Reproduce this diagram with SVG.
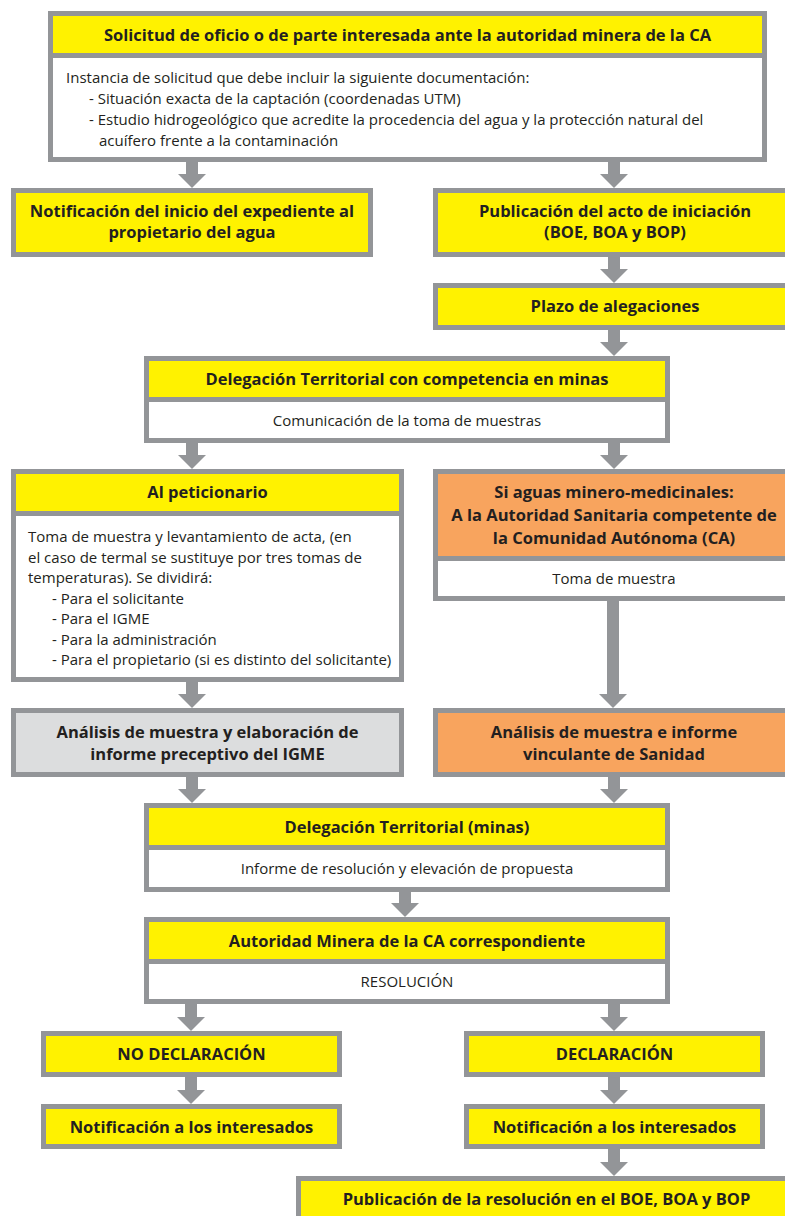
<svg xmlns="http://www.w3.org/2000/svg" width="785" height="1216" viewBox="0 0 785 1216">
  <style>
    .frame { fill: #939598; }
    .yellow { fill: #FFF200; }
    .orange { fill: #F8A45E; }
    .grey { fill: #DCDDDE; }
    .white { fill: #FFFFFF; }
    .head { font-family: "Open Sans", "Noto Sans", sans-serif; font-weight: 700; font-size: 16.5px; fill: #231F20; text-anchor: middle; }
    .body { font-family: "Open Sans", "Noto Sans", sans-serif; font-weight: 400; font-size: 15px; fill: #231F20; }
    .body.mid { text-anchor: middle; }
    .conn { stroke: #939598; stroke-width: 12; fill: none; }
  </style>
  <defs>
    <marker id="arrow" markerUnits="userSpaceOnUse" viewBox="0 -14 14 28" refX="0" refY="0" markerWidth="14" markerHeight="28" orient="auto">
      <path d="M0,-14 L14,0 L0,14 Z" fill="#939598"/>
    </marker>
  </defs>
  <rect width="785" height="1216" fill="#FFFFFF"/>

  <!-- connectors: each shaft stops 14px above the target, the marker fills the rest -->
  <g id="connectors">
    <path class="conn" d="M192,162 V174" marker-end="url(#arrow)"/>
    <path class="conn" d="M614,162 V174" marker-end="url(#arrow)"/>
    <path class="conn" d="M614,257 V269" marker-end="url(#arrow)"/>
    <path class="conn" d="M614,330 V342" marker-end="url(#arrow)"/>
    <path class="conn" d="M192,443 V455" marker-end="url(#arrow)"/>
    <path class="conn" d="M614,443 V455" marker-end="url(#arrow)"/>
    <path class="conn" d="M192,682 V694" marker-end="url(#arrow)"/>
    <path class="conn" d="M613,601 V694" marker-end="url(#arrow)"/>
    <path class="conn" d="M192,777 V789" marker-end="url(#arrow)"/>
    <path class="conn" d="M614,777 V789" marker-end="url(#arrow)"/>
    <path class="conn" d="M405,892 V903" marker-end="url(#arrow)"/>
    <path class="conn" d="M191,1004 V1017" marker-end="url(#arrow)"/>
    <path class="conn" d="M614,1004 V1017" marker-end="url(#arrow)"/>
    <path class="conn" d="M191,1077 V1090" marker-end="url(#arrow)"/>
    <path class="conn" d="M614,1077 V1090" marker-end="url(#arrow)"/>
    <path class="conn" d="M614,1149 V1162" marker-end="url(#arrow)"/>
  </g>

  <g id="solicitud">
    <rect class="frame" x="48" y="11" width="719" height="151"/>
    <rect class="yellow" x="53" y="16" width="709" height="37"/>
    <rect class="white" x="53" y="58" width="709" height="99"/>
    <text class="head" x="407.5" y="41">Solicitud de oficio o de parte interesada ante la autoridad minera de la CA</text>
    <text class="body" x="66" y="83">Instancia de solicitud que debe incluir la siguiente documentación:</text>
    <text class="body" x="89" y="104">- Situación exacta de la captación (coordenadas UTM)</text>
    <text class="body" x="89" y="125">- Estudio hidrogeológico que acredite la procedencia del agua y la protección natural del</text>
    <text class="body" x="99" y="146">acuífero frente a la contaminación</text>
  </g>

  <g id="notificacion-propietario">
    <rect class="frame" x="11" y="188" width="362" height="69"/>
    <rect class="yellow" x="16" y="193" width="352" height="59"/>
    <text class="head" x="192" y="217">Notificación del inicio del expediente al</text>
    <text class="head" x="192" y="238">propietario del agua</text>
  </g>

  <g id="publicacion-iniciacion">
    <rect class="frame" x="433" y="188" width="364" height="69"/>
    <rect class="yellow" x="438" y="193" width="354" height="59"/>
    <text class="head" x="615" y="217">Publicación del acto de iniciación</text>
    <text class="head" x="615" y="238">(BOE, BOA y BOP)</text>
  </g>

  <g id="plazo">
    <rect class="frame" x="433" y="283" width="364" height="47"/>
    <rect class="yellow" x="438" y="288" width="354" height="37"/>
    <text class="head" x="615" y="312">Plazo de alegaciones</text>
  </g>

  <g id="delegacion-competencia">
    <rect class="frame" x="144" y="356" width="526" height="87"/>
    <rect class="yellow" x="149" y="361" width="516" height="36"/>
    <rect class="white" x="149" y="402" width="516" height="36"/>
    <text class="head" x="407" y="385">Delegación Territorial con competencia en minas</text>
    <text class="body mid" x="407" y="426">Comunicación de la toma de muestras</text>
  </g>

  <g id="peticionario">
    <rect class="frame" x="11" y="469" width="393" height="213"/>
    <rect class="yellow" x="16" y="474" width="383" height="37"/>
    <rect class="white" x="16" y="516" width="383" height="161"/>
    <text class="head" x="207.5" y="498">Al peticionario</text>
    <text class="body" x="28" y="542">Toma de muestra y levantamiento de acta, (en</text>
    <text class="body" x="28" y="562.5">el caso de termal se sustituye por tres tomas de</text>
    <text class="body" x="28" y="583">temperaturas). Se dividirá:</text>
    <text class="body" x="52" y="603.5">- Para el solicitante</text>
    <text class="body" x="52" y="624">- Para el IGME</text>
    <text class="body" x="52" y="644.5">- Para la administración</text>
    <text class="body" x="52" y="665">- Para el propietario (si es distinto del solicitante)</text>
  </g>

  <g id="autoridad-sanitaria">
    <rect class="frame" x="433" y="469" width="364" height="132"/>
    <rect class="orange" x="438" y="474" width="354" height="82"/>
    <rect class="white" x="438" y="561" width="354" height="35"/>
    <text class="head" x="614" y="498">Si aguas minero-medicinales:</text>
    <text class="head" x="614" y="521">A la Autoridad Sanitaria competente de</text>
    <text class="head" x="614" y="544">la Comunidad Autónoma (CA)</text>
    <text class="body mid" x="614" y="584">Toma de muestra</text>
  </g>

  <g id="analisis-igme">
    <rect class="frame" x="11" y="708" width="393" height="69"/>
    <rect class="grey" x="16" y="713" width="383" height="59"/>
    <text class="head" x="207.5" y="738">Análisis de muestra y elaboración de</text>
    <text class="head" x="207.5" y="760">informe preceptivo del IGME</text>
  </g>

  <g id="analisis-sanidad">
    <rect class="frame" x="433" y="708" width="364" height="69"/>
    <rect class="orange" x="438" y="713" width="354" height="59"/>
    <text class="head" x="614" y="738">Análisis de muestra e informe</text>
    <text class="head" x="614" y="760">vinculante de Sanidad</text>
  </g>

  <g id="delegacion-minas">
    <rect class="frame" x="144" y="803" width="526" height="89"/>
    <rect class="yellow" x="149" y="808" width="516" height="37"/>
    <rect class="white" x="149" y="850" width="516" height="37"/>
    <text class="head" x="407" y="833">Delegación Territorial (minas)</text>
    <text class="body mid" x="407" y="874">Informe de resolución y elevación de propuesta</text>
  </g>

  <g id="autoridad-minera">
    <rect class="frame" x="144" y="917" width="526" height="87"/>
    <rect class="yellow" x="149" y="922" width="516" height="37"/>
    <rect class="white" x="149" y="964" width="516" height="35"/>
    <text class="head" x="407" y="947">Autoridad Minera de la CA correspondiente</text>
    <text class="body mid" x="407" y="987">RESOLUCIÓN</text>
  </g>

  <g id="no-declaracion">
    <rect class="frame" x="41" y="1031" width="301" height="46"/>
    <rect class="yellow" x="46" y="1036" width="291" height="36"/>
    <text class="head" x="191.5" y="1060">NO DECLARACIÓN</text>
  </g>

  <g id="declaracion">
    <rect class="frame" x="464" y="1031" width="301" height="46"/>
    <rect class="yellow" x="469" y="1036" width="291" height="36"/>
    <text class="head" x="614.5" y="1060">DECLARACIÓN</text>
  </g>

  <g id="notificacion-no-declaracion">
    <rect class="frame" x="41" y="1104" width="301" height="45"/>
    <rect class="yellow" x="46" y="1109" width="291" height="35"/>
    <text class="head" x="191.5" y="1133">Notificación a los interesados</text>
  </g>

  <g id="notificacion-declaracion">
    <rect class="frame" x="464" y="1104" width="301" height="45"/>
    <rect class="yellow" x="469" y="1109" width="291" height="35"/>
    <text class="head" x="614.5" y="1133">Notificación a los interesados</text>
  </g>

  <g id="publicacion-resolucion">
    <rect class="frame" x="296" y="1176" width="501" height="50"/>
    <rect class="yellow" x="301" y="1181" width="491" height="40"/>
    <text class="head" x="546.5" y="1205">Publicación de la resolución en el BOE, BOA y BOP</text>
  </g>
</svg>
